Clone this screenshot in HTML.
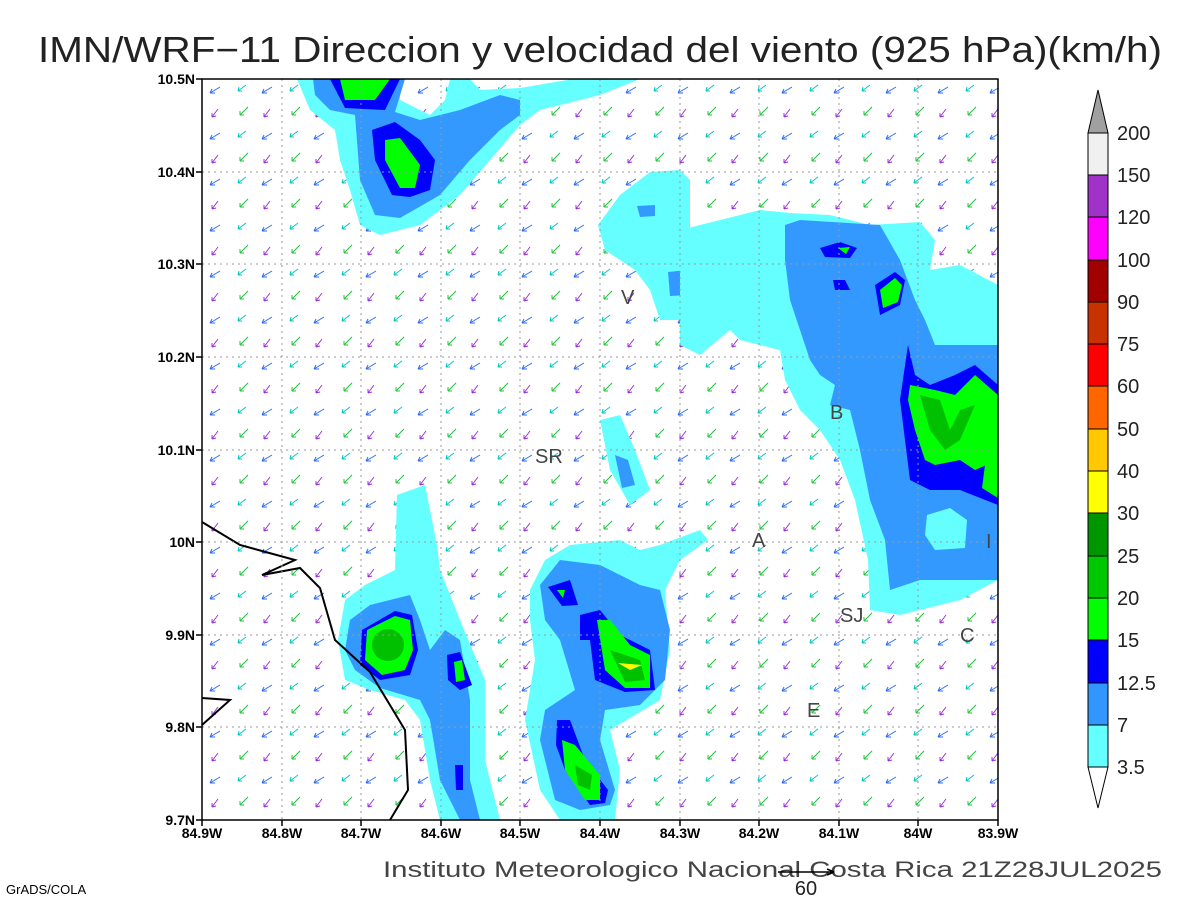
<!DOCTYPE html>
<html><head><meta charset="utf-8"><style>html,body{margin:0;padding:0;background:#fff}svg{display:block}</style></head>
<body>
<svg width="1200" height="900" viewBox="0 0 1200 900" xmlns="http://www.w3.org/2000/svg" font-family="Liberation Sans, sans-serif">
<defs>
<pattern id="arr" x="202" y="79" width="52" height="46" patternUnits="userSpaceOnUse">
<g stroke-width="1" fill="none">
<path d="M18 8 L8 14 M8 14 l5 0 M8 14 l2 -4" stroke="#2a6cff"/>
<path d="M44 6 L36 12 M36 12 l4 0 M36 12 l1 -4" stroke="#00c8c8"/>
<path d="M16 30 L10 38 M10 38 l4 -1 M10 38 l0 -4" stroke="#9a30e0"/>
<path d="M46 28 L38 36 M38 36 l4 0 M38 36 l0 -4" stroke="#20c040"/>
</g>
</pattern>
</defs>
<rect width="1200" height="900" fill="#fff"/>
<text x="38" y="62" font-size="36" fill="#222" textLength="1124" lengthAdjust="spacingAndGlyphs">IMN/WRF−11 Direccion y velocidad del viento (925 hPa)(km/h)</text>

<rect x="202" y="79" width="796" height="741" fill="url(#arr)"/>

<!-- top-left -->
<path d="M297 79 L400 79 L400 100 L430 115 L445 100 L450 79 L470 79 L480 90 L520 88 L573 79 L640 79 L600 95 L540 110 L520 125 L490 160 L460 195 L420 225 L380 235 L360 225 L350 190 L340 160 L335 130 L310 110 Z" fill="#66ffff"/>
<path d="M313 79 L405 79 L395 112 L420 120 L460 110 L500 95 L520 100 L520 115 L500 130 L470 160 L440 195 L400 218 L375 215 L360 180 L355 115 L330 110 L315 95 Z" fill="#3399ff"/>
<path d="M330 79 L400 79 L385 110 L345 108 Z M372 130 L395 122 L420 140 L435 160 L430 190 L410 197 L392 195 L375 160 Z" fill="#0000ff"/>
<path d="M340 79 L390 79 L375 100 L345 100 Z M385 140 L400 138 L420 165 L415 188 L400 188 L385 160 Z" fill="#00ff00"/>

<!-- upper-middle cyan -->
<path d="M598 225 L620 195 L650 172 L680 170 L690 180 L690 240 L685 300 L680 320 L660 320 L650 290 L635 270 L605 250 Z" fill="#66ffff"/>
<path d="M637 206 L655 205 L655 216 L640 217 Z M668 272 L688 270 L688 295 L670 296 Z" fill="#3399ff"/>
<path d="M600 420 L620 415 L635 450 L650 490 L630 505 L610 470 Z" fill="#66ffff"/>
<path d="M615 455 L628 460 L635 485 L622 488 Z" fill="#3399ff"/>

<!-- right blob -->
<path d="M680 230 L720 220 L760 210 L790 213 L830 215 L870 225 L920 222 L935 240 L930 270 L960 265 L998 285 L998 580 L960 600 L900 615 L870 610 L868 560 L855 500 L840 460 L820 430 L800 410 L785 380 L780 350 L760 345 L740 340 L730 330 L700 355 L680 345 Z" fill="#66ffff"/>
<path d="M785 225 L800 220 L880 225 L900 260 L915 300 L925 320 L935 345 L998 345 L998 580 L920 580 L890 590 L885 540 L870 500 L860 450 L850 410 L830 405 L835 385 L820 375 L810 360 L800 330 L790 300 L785 260 Z" fill="#3399ff"/>
<path d="M927 515 L950 508 L967 520 L965 548 L935 550 L925 535 Z" fill="#66ffff"/>
<path d="M908 345 L915 375 L930 385 L955 375 L975 365 L998 385 L998 505 L960 490 L930 490 L910 480 L905 440 L900 400 Z M820 248 L840 242 L857 248 L850 258 L825 257 Z M833 280 L845 280 L850 290 L835 290 Z M875 285 L895 272 L905 280 L900 305 L880 315 Z" fill="#0000ff"/>
<path d="M910 385 L935 390 L955 395 L975 375 L998 395 L998 460 L975 470 L960 460 L935 465 L925 460 L915 430 L908 400 Z M985 465 L998 458 L998 498 L982 488 Z M880 290 L895 278 L902 285 L898 302 L883 308 Z M838 248 L850 247 L846 254 Z" fill="#00ff00"/>
<path d="M920 395 L940 400 L950 430 L960 410 L975 405 L960 440 L945 450 L930 430 Z" fill="#00c000"/>

<!-- left blob -->
<path d="M397 495 L425 485 L437 545 L440 570 L460 620 L485 680 L485 760 L500 820 L440 820 L430 780 L420 720 L405 700 L370 690 L345 680 L338 640 L345 600 L365 585 L395 570 Z" fill="#66ffff"/>
<path d="M350 620 L370 605 L410 595 L420 620 L430 650 L445 630 L460 640 L470 700 L470 780 L480 820 L460 820 L440 780 L430 720 L420 700 L380 688 L355 670 L345 650 Z" fill="#3399ff"/>
<path d="M362 630 L395 611 L412 615 L418 650 L410 675 L380 680 L360 665 Z M447 655 L460 652 L472 685 L460 690 L448 680 Z M455 765 L463 765 L463 790 L456 790 Z" fill="#0000ff"/>
<path d="M367 630 L395 616 L410 620 L413 650 L405 670 L382 675 L365 660 Z M454 662 L462 660 L465 680 L456 682 Z" fill="#00ff00"/>
<circle cx="388" cy="645" r="16" fill="#00c000"/>

<!-- middle blob -->
<path d="M530 590 L545 560 L570 545 L620 540 L640 550 L660 545 L700 530 L708 540 L680 560 L665 590 L670 650 L660 700 L610 730 L620 770 L615 820 L560 820 L540 790 L525 720 L535 660 L530 620 Z" fill="#66ffff"/>
<path d="M540 585 L560 560 L600 565 L640 585 L660 590 L670 630 L665 680 L640 705 L605 710 L600 740 L615 790 L610 805 L580 810 L555 800 L540 740 L545 710 L560 700 L575 690 L560 640 L545 620 Z" fill="#3399ff"/>
<path d="M548 587 L570 580 L578 605 L562 606 Z M580 615 L600 610 L620 635 L650 650 L655 690 L625 692 L595 680 L590 640 L580 640 Z M557 720 L570 720 L585 760 L608 790 L605 803 L590 805 L565 770 L556 745 Z" fill="#0000ff"/>
<path d="M557 590 L565 590 L563 598 Z M597 620 L610 620 L630 645 L650 655 L650 688 L625 688 L605 670 Z M562 740 L575 745 L600 775 L600 800 L585 800 L565 770 Z" fill="#00ff00"/>
<path d="M610 650 L640 660 L645 680 L625 682 Z M575 765 L592 775 L590 790 L578 785 Z" fill="#00c000"/>
<path d="M618 663 L642 665 L630 670 Z" fill="#ffff00"/>

<!-- coastline -->
<path d="M202 522 L240 545 L295 560 L262 575 L300 568 L320 588 L335 640 L370 672 L405 730 L408 790 L390 820" stroke="#000" stroke-width="2" fill="none"/>
<path d="M202 725 L230 700 L202 698" stroke="#000" stroke-width="2" fill="none"/>

<g stroke="#999" stroke-dasharray="2,4" stroke-width="1">
<path d="M282 79V820M361 79V820M441 79V820M520 79V820M600 79V820M680 79V820M759 79V820M839 79V820M918 79V820"/>
<path d="M202 172H998M202 264H998M202 357H998M202 450H998M202 542H998M202 635H998M202 727H998"/>
</g>
<rect x="202" y="79" width="796" height="741" fill="none" stroke="#000" stroke-width="1.5"/>
<g stroke="#000" stroke-width="1.5">
<path d="M202 820v6M282 820v6M361 820v6M441 820v6M520 820v6M600 820v6M680 820v6M759 820v6M839 820v6M918 820v6M998 820v6"/>
<path d="M196 79h6M196 172h6M196 264h6M196 357h6M196 450h6M196 542h6M196 635h6M196 727h6M196 820h6"/>
</g>

<g font-size="20" fill="#444">
<text x="621" y="304">V</text><text x="535" y="463">SR</text><text x="830" y="419">B</text>
<text x="752" y="547">A</text><text x="986" y="548">I</text><text x="840" y="622">SJ</text>
<text x="960" y="642">C</text><text x="807" y="717">E</text>
</g>

<g font-size="14" font-weight="bold" fill="#000" text-anchor="end">
<text x="195" y="84">10.5N</text><text x="195" y="177">10.4N</text><text x="195" y="269">10.3N</text>
<text x="195" y="362">10.2N</text><text x="195" y="455">10.1N</text><text x="195" y="547">10N</text>
<text x="195" y="640">9.9N</text><text x="195" y="732">9.8N</text><text x="195" y="825">9.7N</text>
</g>
<g font-size="14" font-weight="bold" fill="#000" text-anchor="middle">
<text x="202" y="838">84.9W</text><text x="282" y="838">84.8W</text><text x="361" y="838">84.7W</text>
<text x="441" y="838">84.6W</text><text x="520" y="838">84.5W</text><text x="600" y="838">84.4W</text>
<text x="680" y="838">84.3W</text><text x="759" y="838">84.2W</text><text x="839" y="838">84.1W</text>
<text x="918" y="838">84W</text><text x="998" y="838">83.9W</text>
</g>

<g stroke="#000" stroke-width="1">
<path d="M1088 133 L1098 90 L1108 133 Z" fill="#a0a0a0"/>
<rect x="1088" y="133" width="20" height="42" fill="#f0f0f0"/>
<rect x="1088" y="175" width="20" height="42" fill="#a032c8"/>
<rect x="1088" y="217" width="20" height="43" fill="#ff00ff"/>
<rect x="1088" y="260" width="20" height="42" fill="#a00000"/>
<rect x="1088" y="302" width="20" height="42" fill="#c83200"/>
<rect x="1088" y="344" width="20" height="42" fill="#ff0000"/>
<rect x="1088" y="386" width="20" height="43" fill="#ff6600"/>
<rect x="1088" y="429" width="20" height="42" fill="#ffc800"/>
<rect x="1088" y="471" width="20" height="42" fill="#ffff00"/>
<rect x="1088" y="513" width="20" height="43" fill="#009600"/>
<rect x="1088" y="556" width="20" height="42" fill="#00c800"/>
<rect x="1088" y="598" width="20" height="42" fill="#00ff00"/>
<rect x="1088" y="640" width="20" height="43" fill="#0000ff"/>
<rect x="1088" y="683" width="20" height="42" fill="#3296ff"/>
<rect x="1088" y="725" width="20" height="42" fill="#64ffff"/>
<path d="M1088 767 L1098 808 L1108 767 Z" fill="#fff"/>
</g>
<g font-size="20" fill="#222">
<text x="1117" y="140">200</text><text x="1117" y="182">150</text><text x="1117" y="224">120</text>
<text x="1117" y="267">100</text><text x="1117" y="309">90</text><text x="1117" y="351">75</text>
<text x="1117" y="393">60</text><text x="1117" y="436">50</text><text x="1117" y="478">40</text>
<text x="1117" y="520">30</text><text x="1117" y="563">25</text><text x="1117" y="605">20</text>
<text x="1117" y="647">15</text><text x="1117" y="690">12.5</text><text x="1117" y="732">7</text>
<text x="1117" y="774">3.5</text>
</g>

<text x="383" y="877" font-size="22" fill="#444" textLength="779" lengthAdjust="spacingAndGlyphs">Instituto Meteorologico Nacional Costa Rica 21Z28JUL2025</text>
<path d="M778 872 H834 M834 872 l-7 -3 M834 872 l-7 3" stroke="#000" stroke-width="1.5" fill="none"/>
<text x="806" y="895" font-size="20" fill="#222" text-anchor="middle">60</text>
<text x="6" y="894" font-size="13" fill="#000">GrADS/COLA</text>
</svg>
</body></html>
